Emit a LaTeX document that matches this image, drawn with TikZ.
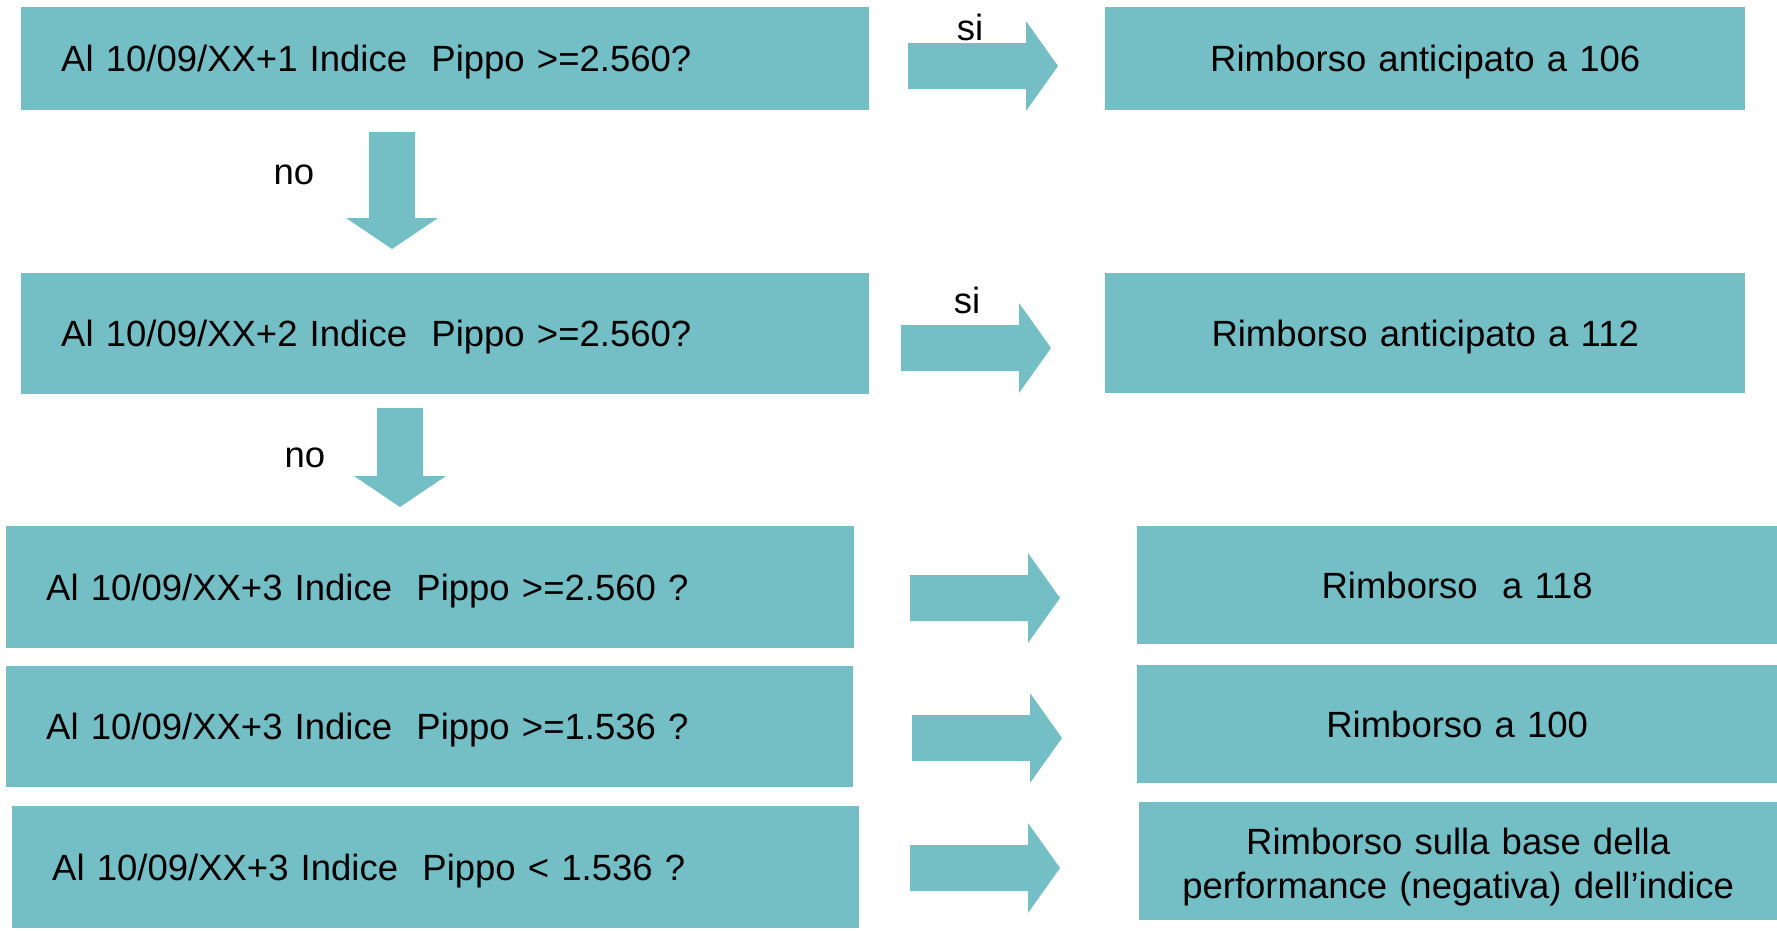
\documentclass[tikz,border=0pt]{standalone}
\usepackage{fontspec}
\setmainfont{Liberation Sans}
\definecolor{acqua}{HTML}{73BFC5}
\tikzset{
    box/.style={fill=acqua, anchor=north west, inner xsep=40pt, inner ysep=0pt,
        text depth=0pt, align=left, font=\fontsize{36.5}{44}\selectfont},
    esito/.style={box, inner xsep=0pt, align=center},
    etichetta/.style={font=\fontsize{36.5}{44}\selectfont}
}
\begin{document}
\begin{tikzpicture}[x=1pt, y=-1pt]
        \useasboundingbox (0,0) rectangle (1777,930);

        % domande
        \node[box, text width=768pt, minimum height=103pt] (q1) at (21,7) {Al 10/09/XX+1 Indice\ \ Pippo >=2.560?};
        \node[box, text width=768pt, minimum height=121pt] (q2) at (21,273) {Al 10/09/XX+2 Indice\ \ Pippo >=2.560?};
        \node[box, text width=768pt, minimum height=122pt] (q3) at (6,526) {Al 10/09/XX+3 Indice\ \ Pippo >=2.560 ?};
        \node[box, text width=767pt, minimum height=121pt] (q4) at (6,666) {Al 10/09/XX+3 Indice\ \ Pippo >=1.536 ?};
        \node[box, text width=767pt, minimum height=122pt] (q5) at (12,806) {Al 10/09/XX+3 Indice\ \ Pippo < 1.536 ?};

        % esiti
        \node[esito, text width=640pt, minimum height=103pt] (r1) at (1105,7) {Rimborso anticipato a 106};
        \node[esito, text width=640pt, minimum height=120pt] (r2) at (1105,273) {Rimborso anticipato a 112};
        \node[esito, text width=640pt, minimum height=118pt] (r3) at (1137,526) {Rimborso\ \ a 118};
        \node[esito, text width=640pt, minimum height=118pt] (r4) at (1137,665) {Rimborso a 100};
        \node[esito, text width=638pt, minimum height=118pt, text depth=40pt] (r5) at (1139,802) {Rimborso sulla base della\\performance (negativa) dell’indice};

        % frecce
        \foreach \x/\y in {908/66, 901/348, 910/598, 912/738, 910/868}
            \fill[acqua] (\x,\y-23) -- (\x+118,\y-23) -- (\x+118,\y-45) -- (\x+150,\y)
                -- (\x+118,\y+45) -- (\x+118,\y+23) -- (\x,\y+23) -- cycle;
        \foreach \x/\t/\b in {392/132/218, 400/408/476}
            \fill[acqua] (\x-23,\t) -- (\x+23,\t) -- (\x+23,\b) -- (\x+46,\b)
                -- (\x,\b+31) -- (\x-46,\b) -- (\x-23,\b) -- cycle;

        \node[etichetta] (si1) at (970,27) {si};
        \node[etichetta] (si2) at (967,300) {si};
        \node[etichetta] (no1) at (294,175) {no};
        \node[etichetta] (no2) at (305,458) {no};
    \end{tikzpicture}
\end{document}
